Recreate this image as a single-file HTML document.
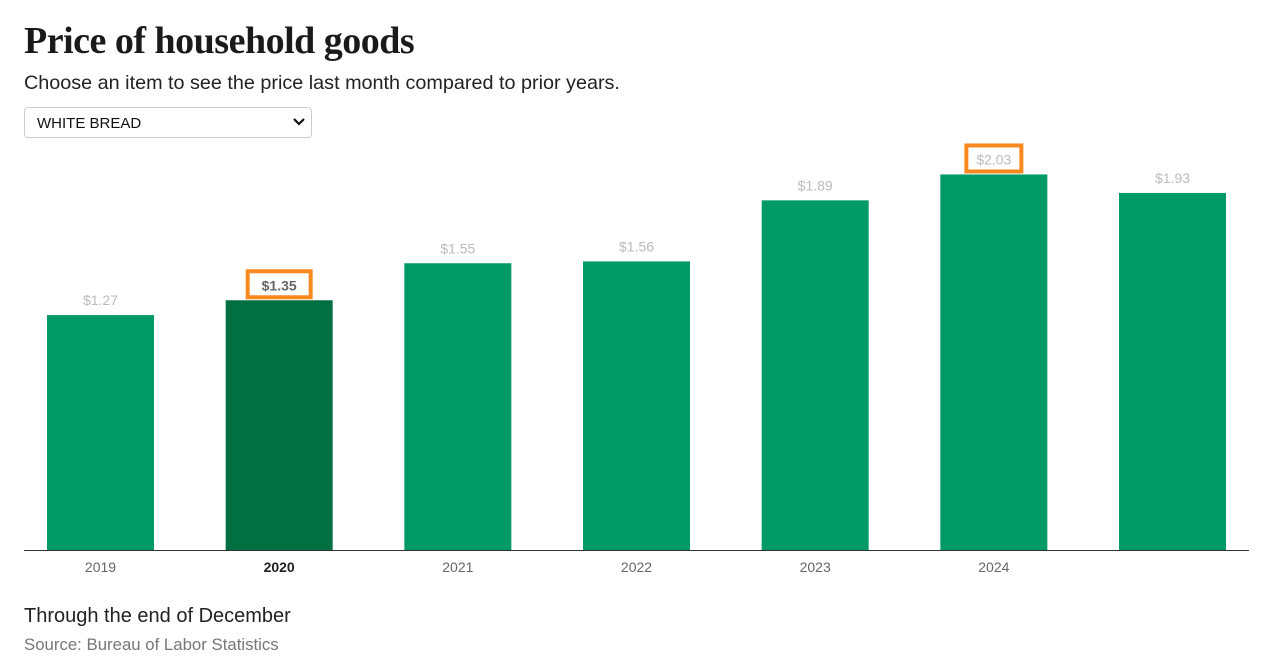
<!DOCTYPE html>
<html><head><meta charset="utf-8">
<style>
body{margin:0;background:#fff;width:1277px;height:668px;overflow:hidden;font-family:"Liberation Sans",sans-serif;}
h1{position:absolute;left:24px;top:19px;margin:0;font-family:"Liberation Serif",serif;font-weight:bold;font-size:38px;letter-spacing:-0.5px;color:#1a1a1a;}
.sub{position:absolute;left:24px;top:72px;font-size:19.8px;color:#222;}
.sel{position:absolute;left:24px;top:107px;width:288px;height:31px;border:1px solid #ccc;border-radius:4px;box-sizing:border-box;font-size:15px;color:#111;padding:7px 12px;}
.sel svg{position:absolute;right:6px;top:9px;}
.note{position:absolute;left:24px;top:605px;font-size:20px;color:#222;}
.src{position:absolute;left:24px;top:635px;font-size:16.8px;color:#777;}
</style></head><body>
<h1>Price of household goods</h1>
<div class="sub">Choose an item to see the price last month compared to prior years.</div>
<div class="sel">WHITE BREAD<svg width="12" height="10"><path d="M1 2 L6 7 L11 2" stroke="#111" stroke-width="2.2" fill="none"/></svg></div>
<svg id="chart" width="1277" height="668" style="position:absolute;left:0;top:0"></svg>
<div class="note">Through the end of December</div>
<div class="src">Source: Bureau of Labor Statistics</div>
<script>
const categories=["2019","2020","2021","2022","2023","2024",""];
const values=[1.27,1.35,1.55,1.56,1.89,2.03,1.93];
const valueLabels=["$1.27","$1.35","$1.55","$1.56","$1.89","$2.03","$1.93"];
const highlightIndex=1;
const boxedIndices=[1,5];
const svg=document.getElementById('chart');
const NS='http://www.w3.org/2000/svg';
const baseY=550, pxPerUnit=185, x0=47, step=178.67, bw=107;
const xScale=i=>x0+i*step;
const yScale=v=>baseY-v*pxPerUnit;
function mk(t,a){const e=document.createElementNS(NS,t);for(const k in a)e.setAttribute(k,a[k]);svg.appendChild(e);return e;}
values.forEach((v,i)=>{
  const x=xScale(i), y=yScale(v), cx=x+bw/2;
  const r=mk('rect',{x:x,y:y,width:bw,height:baseY-y,fill:i===highlightIndex?'#006f41':'#009a66'});
  
  
  if(boxedIndices.includes(i)){
    const w=i===highlightIndex?63:55;
    const b=mk('rect',{x:cx-w/2,y:y-29,width:w,height:26,fill:'#fff',stroke:'#f7891f','stroke-width':4});
    
    
  }
  const t=mk('text',{x:cx,y:y-10,'text-anchor':'middle','font-size':14,fill:i===highlightIndex?'#666':'#bbb','font-weight':i===highlightIndex?'bold':'normal'});
  t.textContent=valueLabels[i];
  
  
  if(categories[i]){
    const c=mk('text',{x:cx,y:572,'text-anchor':'middle','font-size':14,fill:i===highlightIndex?'#222':'#666','font-weight':i===highlightIndex?'bold':'normal'});
    c.textContent=categories[i];
    
    
  }
});
const ax=mk('line',{x1:24,x2:1249,y1:550.5,y2:550.5,stroke:'#333','stroke-width':1});


</script>
</body></html>
